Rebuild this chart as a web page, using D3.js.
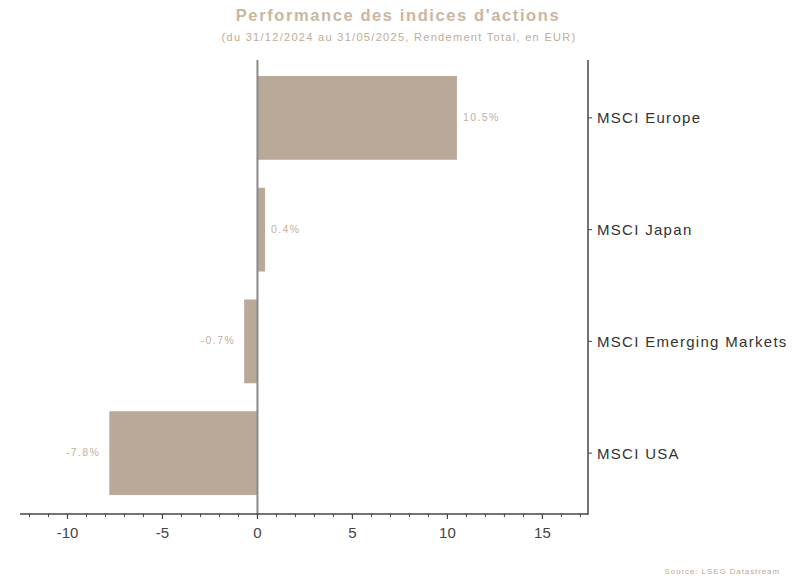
<!DOCTYPE html>
<html><head><meta charset="utf-8">
<script src="https://cdn.jsdelivr.net/npm/d3@7"></script>
<style>body{margin:0;background:#fff}svg{display:block}</style>
</head><body>
<script>
const categories = ["MSCI Europe", "MSCI Japan", "MSCI Emerging Markets", "MSCI USA"];
const values = [10.5, 0.4, -0.7, -7.8];
const valueLabels = ["10.5%", "0.4%", "-0.7%", "-7.8%"];
const xTicks = [-10, -5, 0, 5, 10, 15];
const minorTicks = d3.range(-12, 18, 1);
const titleText = "Performance des indices d'actions";
const subtitleText = "(du 31/12/2024 au 31/05/2025, Rendement Total, en EUR)";
const sourceText = "Source: LSEG Datastream";

const W = 800, H = 581;
const svg = d3.select("body").append("svg").attr("width", W).attr("height", H);
const x = d3.scaleLinear().domain([-12.5, 17.4]).range([20, 588]);
const y = d3.scaleBand().domain(categories).range([62, 509]).paddingInner(0.25).paddingOuter(0.125);
const barColor = "#b9a999", labelColor = "#c4b09e", font = "Arial, 'Liberation Sans', sans-serif";

svg.append("text").attr("x", 398).attr("y", 21).attr("text-anchor", "middle")
  .attr("font-family", font).attr("font-weight", "bold").attr("font-size", 16.5)
  .attr("letter-spacing", 1.6).attr("fill", "#c9b6a3").text(titleText);
svg.append("text").attr("x", 399).attr("y", 41).attr("text-anchor", "middle")
  .attr("font-family", font).attr("font-size", 11).attr("letter-spacing", 1.3)
  .attr("fill", "#c2ac96").text(subtitleText);

svg.selectAll("rect.bar").data(values).join("rect").attr("class", "bar")
  .attr("x", d => x(Math.min(0, d))).attr("width", d => Math.abs(x(d) - x(0)))
  .attr("y", (d, i) => y(categories[i])).attr("height", y.bandwidth()).attr("fill", barColor);

// zero line
svg.append("line").attr("x1", x(0)).attr("x2", x(0)).attr("y1", 60).attr("y2", 514)
  .attr("stroke", "#8a8a8a").attr("stroke-width", 2);

svg.selectAll("text.vl").data(values).join("text").attr("class", "vl")
  .attr("x", d => d >= 0 ? x(d) + 6 : x(d) - 9)
  .attr("y", (d, i) => y(categories[i]) + y.bandwidth() / 2 + 3)
  .attr("text-anchor", d => d >= 0 ? "start" : "end")
  .attr("font-family", font).attr("font-size", 10.5).attr("letter-spacing", 1.4)
  .attr("fill", labelColor)
  .text((d, i) => valueLabels[i]);

// x axis
const xa = svg.append("g").attr("transform", "translate(0,514)");
xa.append("line").attr("x1", 20).attr("x2", 588).attr("stroke", "#444").attr("stroke-width", 1.5);
xa.selectAll("line.minor").data(minorTicks).join("line").attr("class", "minor")
  .attr("x1", d => x(d)).attr("x2", d => x(d)).attr("y1", 0).attr("y2", 3).attr("stroke", "#444");
xa.selectAll("line.major").data(xTicks).join("line").attr("class", "major")
  .attr("x1", d => x(d)).attr("x2", d => x(d)).attr("y1", 0).attr("y2", 5).attr("stroke", "#444").attr("stroke-width", 1.2);
xa.selectAll("text").data(xTicks).join("text")
  .attr("x", d => x(d)).attr("y", 23.5).attr("text-anchor", "middle")
  .attr("font-family", font).attr("font-size", 15).attr("fill", "#444").text(d => d);

// right y axis
const ya = svg.append("g").attr("transform", "translate(588,0)");
ya.append("line").attr("y1", 60).attr("y2", 514.7).attr("stroke", "#444").attr("stroke-width", 1.5);
ya.selectAll("line.t").data(categories).join("line").attr("class", "t")
  .attr("x1", 0).attr("x2", 4).attr("y1", d => y(d) + y.bandwidth() / 2).attr("y2", d => y(d) + y.bandwidth() / 2)
  .attr("stroke", "#444");
ya.selectAll("text").data(categories).join("text")
  .attr("x", 9).attr("y", d => y(d) + y.bandwidth() / 2 + 5.5)
  .attr("font-family", font).attr("font-size", 15).attr("letter-spacing", 1.3)
  .attr("fill", "#333").text(d => d);

svg.append("text").attr("x", 780).attr("y", 574).attr("text-anchor", "end")
  .attr("font-family", font).attr("font-size", 8).attr("letter-spacing", 0.9)
  .attr("fill", "#c4a88e").text(sourceText);
</script>
</body></html>
